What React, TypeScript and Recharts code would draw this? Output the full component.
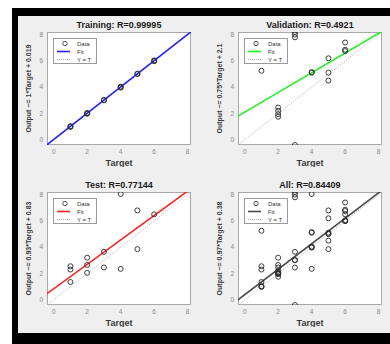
import { ScatterChart, Scatter, XAxis, YAxis, ReferenceLine, Label } from 'recharts';

// axis range shared by all four panels
const LO = -0.4;
const HI = 8.2;
const axisTicks = [0, 2, 4, 6, 8];

const trainingPoints = [
  { t: 1, y: 1.0 }, { t: 1, y: 1.03 }, { t: 1, y: 0.98 },
  { t: 2, y: 2.0 }, { t: 2, y: 2.04 }, { t: 2, y: 1.98 },
  { t: 3, y: 3.0 }, { t: 3, y: 3.03 },
  { t: 4, y: 4.0 }, { t: 4, y: 4.04 }, { t: 4, y: 3.97 },
  { t: 5, y: 5.0 }, { t: 5, y: 5.03 },
  { t: 6, y: 6.0 }, { t: 6, y: 6.04 }, { t: 6, y: 5.98 },
];

const validationPoints = [
  { t: 1, y: 5.25 },
  { t: 2, y: 2.45 }, { t: 2, y: 2.2 }, { t: 2, y: 1.95 }, { t: 2, y: 1.75 },
  { t: 3, y: 8.2 }, { t: 3, y: 8.0 }, { t: 3, y: 7.8 }, { t: 3, y: -0.4 },
  { t: 4, y: 5.1 }, { t: 4, y: 5.15 },
  { t: 5, y: 6.2 }, { t: 5, y: 5.1 }, { t: 5, y: 4.5 },
  { t: 6, y: 7.4 }, { t: 6, y: 6.85 }, { t: 6, y: 6.75 },
];

const testPoints = [
  { t: 1, y: 2.55 }, { t: 1, y: 2.3 }, { t: 1, y: 1.35 },
  { t: 2, y: 3.2 }, { t: 2, y: 2.65 }, { t: 2, y: 2.05 },
  { t: 3, y: 3.65 }, { t: 3, y: 2.45 },
  { t: 4, y: 8.05 }, { t: 4, y: 2.35 },
  { t: 5, y: 6.8 }, { t: 5, y: 3.85 },
  { t: 6, y: 6.5 },
];

const allPoints = [...trainingPoints, ...validationPoints, ...testPoints];

const panelTitles = ['Training: R=0.99995', 'Validation: R=0.4921', 'Test: R=0.77144', 'All: R=0.84409'];
const fitSlopes = [1, 0.75, 0.93, 0.97];
const fitIntercepts = [0.019, 2.1, 0.83, 0.38];
const fitColors = ['#1f1fff', '#22ee22', '#ff2020', '#4a4a4a'];
const panelPoints = [trainingPoints, validationPoints, testPoints, allPoints];

const PW = 144;
const PH = 113;
const YW = 36;
const XH = 22;
const panelLefts = [47, 238, 47, 238];
const panelTops = [32, 32, 192, 192];

const circle = (props: any) => (
  <circle cx={props.cx} cy={props.cy} r={2.5} fill="none" stroke="#2a2a2a" strokeWidth={0.9} />
);

function Panel({ i }: { i: number }) {
  const left = panelLefts[i];
  const top = panelTops[i];
  const slope = fitSlopes[i];
  const intercept = fitIntercepts[i];
  const color = fitColors[i];
  const ylabel = `Output ~= ${slope}*Target + ${intercept}`;
  return (
    <>
      <div
        style={{
          position: 'absolute', left, top: top - 11, width: PW, textAlign: 'center',
          fontSize: 9, lineHeight: '9px', fontWeight: 700, color: '#1a1a1a',
        }}
      >
        {panelTitles[i]}
      </div>
      <div
        style={{
          position: 'absolute', left, top, width: PW, height: PH, boxSizing: 'border-box',
          background: '#fff', border: '1px solid #a8a8a8',
        }}
      />
      <div style={{ position: 'absolute', left: left - YW, top: top - 6 }}>
        <ScatterChart width={YW + PW + 6} height={6 + PH + XH} margin={{ top: 6, right: 6, bottom: 0, left: 0 }}>
          <XAxis
            type="number" dataKey="t" domain={[LO, HI]} ticks={axisTicks} allowDataOverflow
            height={XH} tickSize={0} tickMargin={4} axisLine={false}
            tick={{ fontSize: 6.5, fill: '#8a8a8a' }}
          >
            <Label value="Target" position="insideBottom" offset={1} style={{ fontSize: 9, fontWeight: 700, fill: '#3a3a3a' }} />
          </XAxis>
          <YAxis
            type="number" dataKey="y" domain={[LO, HI]} ticks={axisTicks} allowDataOverflow
            width={YW} tickSize={0} tickMargin={4} axisLine={false}
            tick={{ fontSize: 6.5, fill: '#8a8a8a' }}
          >
            <Label value={ylabel} angle={-90} position="center" style={{ fontSize: 7, fontWeight: 700, fill: '#3a3a3a' }} />
          </YAxis>
          <ReferenceLine
            segment={[{ x: LO, y: LO }, { x: HI, y: HI }]}
            stroke="#b0b0b0" strokeDasharray="1 1.5" strokeWidth={1} ifOverflow="hidden"
          />
          <ReferenceLine
            segment={[{ x: LO, y: slope * LO + intercept }, { x: HI, y: slope * HI + intercept }]}
            stroke={color} strokeWidth={1.6} ifOverflow="hidden"
          />
          <Scatter data={panelPoints[i]} isAnimationActive={false} shape={circle} />
        </ScatterChart>
      </div>
      <div
        style={{
          position: 'absolute', left: left + 6, top: top + 6, width: 44, height: 26,
          boxSizing: 'border-box', background: '#fff', border: '1px solid #9a9a9a',
        }}
      >
        <svg width={42} height={24} style={{ display: 'block' }}>
          <circle cx={11} cy={4.5} r={2.2} fill="none" stroke="#2a2a2a" strokeWidth={0.8} />
          <text x={23} y={7} fontSize={6} fill="#333">Data</text>
          <line x1={3} x2={16} y1={12.5} y2={12.5} stroke={color} strokeWidth={1.6} />
          <text x={23} y={15} fontSize={6} fill="#333">Fit</text>
          <line x1={3} x2={16} y1={20.5} y2={20.5} stroke="#b0b0b0" strokeDasharray="1 1" />
          <text x={23} y={23} fontSize={6} fill="#333">Y = T</text>
        </svg>
      </div>
    </>
  );
}

export default function App() {
  return (
    <div
      style={{
        position: 'absolute', left: 0, top: 0, width: 390, height: 344, background: '#fff',
        fontFamily: '"Liberation Sans", Arial, sans-serif', overflow: 'hidden',
      }}
    >
      <div style={{ position: 'absolute', left: 12, top: 8, width: 378, height: 336, background: '#000' }} />
      <div style={{ position: 'absolute', left: 18, top: 16, width: 372, height: 317, background: '#efefef' }} />
      {[0, 1, 2, 3].map((i) => (
        <Panel key={i} i={i} />
      ))}
    </div>
  );
}
